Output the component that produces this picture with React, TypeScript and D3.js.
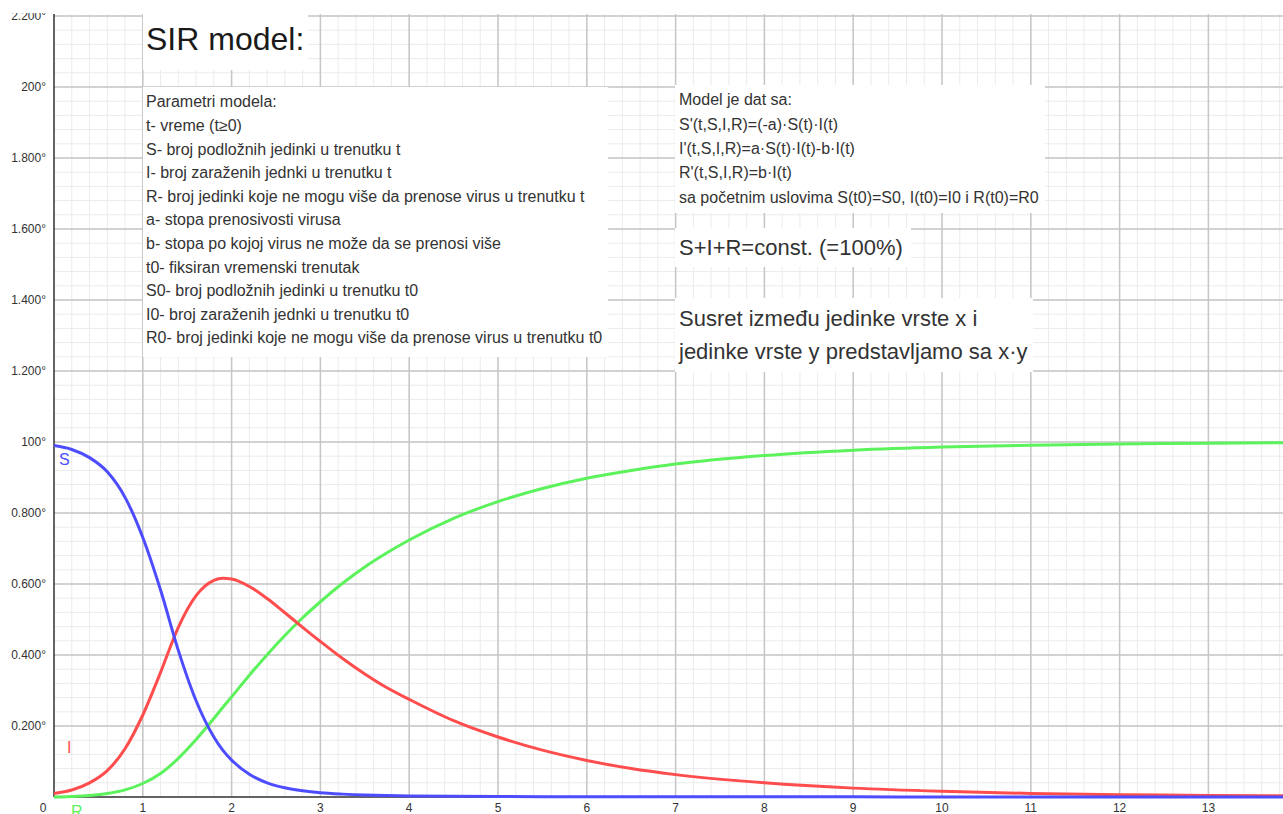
import React from 'react';
import * as d3 from 'd3';

// time samples (t) and the three SIR series
const tValues = [0, 0.2, 0.4, 0.6, 0.8, 1.0, 1.2, 1.4, 1.6, 1.8, 1.9, 2.0, 2.2, 2.4, 2.6, 2.8, 3.0, 3.25, 3.5, 3.75, 4.0, 4.5, 5, 5.5, 6, 6.5, 7, 8, 9, 10, 11, 12, 13, 14];
const sValues = [0.99, 0.979, 0.956, 0.916, 0.844, 0.731, 0.583, 0.413, 0.271, 0.169, 0.132, 0.104, 0.064, 0.040, 0.026, 0.0175, 0.012, 0.0081, 0.0055, 0.004, 0.003, 0.0019, 0.0013, 0.001, 0.0008, 0.0006, 0.0005, 0.0004, 0.0004, 0.0003, 0.0003, 0.0003, 0.0003, 0.0003];
const iValues = [0.01, 0.0196, 0.0397, 0.0743, 0.136, 0.231, 0.351, 0.478, 0.567, 0.610, 0.616, 0.614, 0.593, 0.559, 0.519, 0.478, 0.438, 0.390, 0.3465, 0.3076, 0.275, 0.215, 0.169, 0.132, 0.103, 0.080, 0.063, 0.040, 0.025, 0.016, 0.010, 0.0065, 0.0045, 0.003];
const rValues = [0, 0.0014, 0.0043, 0.0097, 0.020, 0.038, 0.066, 0.109, 0.162, 0.221, 0.252, 0.282, 0.343, 0.401, 0.455, 0.505, 0.550, 0.602, 0.648, 0.688, 0.724, 0.785, 0.832, 0.869, 0.898, 0.920, 0.938, 0.962, 0.977, 0.986, 0.991, 0.9945, 0.9965, 0.998];

const xTickValues = [1, 2, 3, 4, 5, 6, 7, 8, 9, 10, 11, 12, 13];
const xTickLabels = ['1', '2', '3', '4', '5', '6', '7', '8', '9', '10', '11', '12', '13'];
const yTickValues = [0.2, 0.4, 0.6, 0.8, 1.0, 1.2, 1.4, 1.6, 1.8, 2.0, 2.2];
const yTickLabels = ['0.200°', '0.400°', '0.600°', '0.800°', '100°', '1.200°', '1.400°', '1.600°', '1.800°', '200°', '2.200°'];

const titleText = 'SIR model:';
const paramLines = [
  'Parametri modela:',
  't- vreme (t≥0)',
  'S- broj podložnih jedinki u trenutku t',
  'I- broj zaraženih jednki u trenutku t',
  'R- broj jedinki koje ne mogu više da prenose virus u trenutku t',
  'a- stopa prenosivosti virusa',
  'b- stopa po kojoj virus ne može da se prenosi više',
  't0- fiksiran vremenski trenutak',
  'S0- broj podložnih jedinki u trenutku t0',
  'I0- broj zaraženih jednki u trenutku t0',
  'R0- broj jedinki koje ne mogu više da prenose virus u trenutku t0',
];
const modelLines = [
  'Model je dat sa:',
  "S'(t,S,I,R)=(-a)·S(t)·I(t)",
  "I'(t,S,I,R)=a·S(t)·I(t)-b·I(t)",
  "R'(t,S,I,R)=b·I(t)",
  'sa početnim uslovima S(t0)=S0, I(t0)=I0 i R(t0)=R0',
];
const constText = 'S+I+R=const. (=100%)';
const meetLines = ['Susret između jedinke vrste x i', 'jedinke vrste y predstavljamo sa x·y'];

const W = 1283;
const H = 814;
const FONT = "'Liberation Sans', Arial, sans-serif";

export default function App() {
  const x = d3.scaleLinear().domain([0, 13.84]).range([54, 1283]);
  const y = d3.scaleLinear().domain([0, 2.2]).range([797, 16]);
  const top = 14;

  const minorX = d3.range(0, 13.85, 0.2);
  const minorY = d3.range(0, 2.21, 0.04);

  const mk = (vals: number[]) =>
    d3
      .line<number>()
      .x((_, i) => x(tValues[i]))
      .y((d) => y(d))
      .curve(d3.curveMonotoneX)(vals) || '';

  const series = [
    { vals: rValues, color: '#5cf25c' },
    { vals: iValues, color: '#ff4d4d' },
    { vals: sValues, color: '#4d4dff' },
  ];

  return (
    <svg width={W} height={H} style={{ position: 'absolute', left: 0, top: 0, display: 'block' }} fontFamily={FONT}>
      <defs>
        <clipPath id="plotclip">
          <rect x={54} y={top} width={W - 54} height={800 - top} />
        </clipPath>
      </defs>
      <rect x={0} y={0} width={W} height={H} fill="#fff" />
      {/* minor grid */}
      <g stroke="#ebebeb" strokeWidth={1}>
        {minorX.map((v, i) => (
          <line key={'mx' + i} x1={x(v)} x2={x(v)} y1={top} y2={y(0)} />
        ))}
        {minorY.map((v, i) => (
          <line key={'my' + i} x1={x(0)} x2={W} y1={y(v)} y2={y(v)} />
        ))}
      </g>
      {/* major grid */}
      <g stroke="#c6c6c6" strokeWidth={1.5}>
        {xTickValues.map((v) => (
          <line key={'Mx' + v} x1={x(v)} x2={x(v)} y1={top} y2={y(0)} />
        ))}
        {yTickValues.map((v) => (
          <line key={'My' + v} x1={x(0)} x2={W} y1={y(v)} y2={y(v)} />
        ))}
      </g>
      {/* axes */}
      <g stroke="#333" strokeWidth={1.5}>
        <line x1={x(0)} x2={x(0)} y1={top} y2={y(0)} />
        <line x1={x(0)} x2={W} y1={y(0)} y2={y(0)} />
      </g>

      {/* text boxes */}
      <rect x={143} y={0} width={165} height={70} fill="#fff" />
      <text x={146} y={50} fontSize={32} fill="#1a1a1a">{titleText}</text>

      <rect x={143} y={87} width={465} height={270} fill="#fff" />
      {paramLines.map((s, i) => (
        <text key={'p' + i} x={146} y={107.3 + i * 23.6} fontSize={16} fill="#333">{s}</text>
      ))}

      <rect x={675} y={85} width={370} height={128} fill="#fff" />
      {modelLines.map((s, i) => (
        <text key={'m' + i} x={679} y={105.3 + i * 24.35} fontSize={16} fill="#333">{s}</text>
      ))}

      <rect x={675} y={228} width={236} height={39} fill="#fff" />
      <text x={679} y={255} fontSize={22} fill="#333">{constText}</text>

      <rect x={675} y={298} width={358} height={74} fill="#fff" />
      {meetLines.map((s, i) => (
        <text key={'s' + i} x={679} y={326 + i * 33} fontSize={22} fill="#333">{s}</text>
      ))}

      {/* curves */}
      <g clipPath="url(#plotclip)" fill="none" strokeWidth={3} strokeLinejoin="round" strokeLinecap="round">
        {series.map((s, i) => (
          <path key={'c' + i} d={mk(s.vals)} stroke={s.color} />
        ))}
      </g>

      {/* curve labels */}
      <text x={59} y={465} fontSize={16} fill="#4d4dff">S</text>
      <text x={67} y={753} fontSize={16} fill="#ff4d4d">I</text>
      <text x={71} y={817} fontSize={16} fill="#5cf25c">R</text>

      {/* tick labels */}
      <g fontSize={12} fill="#333">
        {yTickValues.map((v, i) => (
          <text key={'yl' + i} x={46} y={y(v)} dy="0.35em" textAnchor="end">{yTickLabels[i]}</text>
        ))}
        {xTickValues.map((v, i) => (
          <text key={'xl' + i} x={x(v)} y={812} textAnchor="middle">{xTickLabels[i]}</text>
        ))}
        <text x={43} y={812} textAnchor="middle">0</text>
      </g>

      {/* top cover */}
      <rect x={0} y={0} width={W} height={13} fill="#fff" />
    </svg>
  );
}
